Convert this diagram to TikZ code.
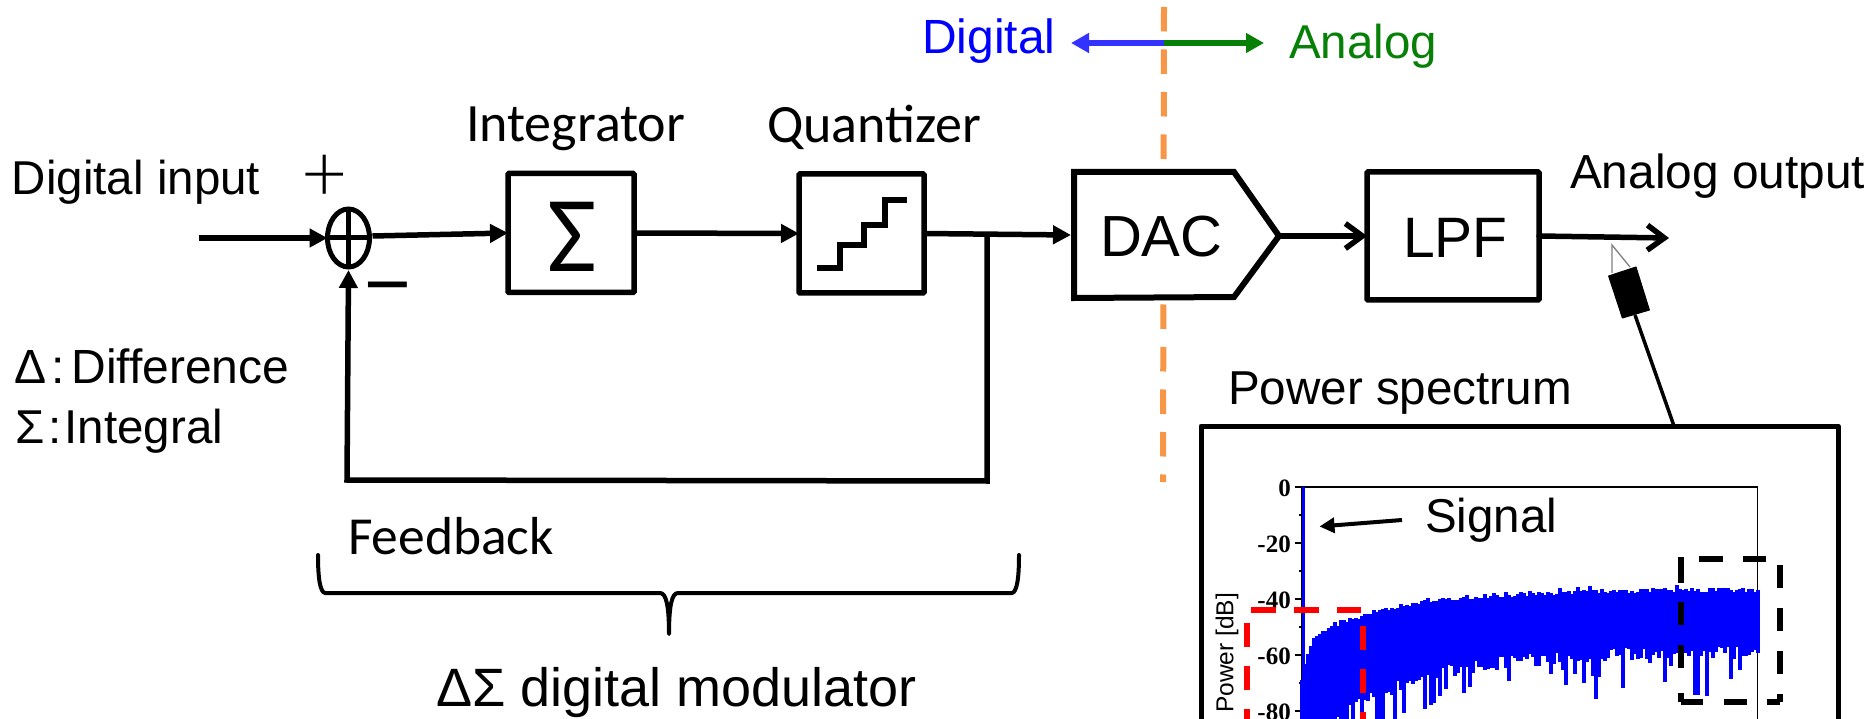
\documentclass[tikz,border=0pt]{standalone}
\usepackage{fontspec}
\setmainfont{Liberation Sans}
\newfontfamily\calib{Carlito}
\newfontfamily\tickfont{Liberation Serif}
\newfontfamily\thinfont[UprightFont={* Light}]{Lato}
\usetikzlibrary{arrows.meta,shapes.geometric}
\definecolor{dashorange}{RGB}{247,150,70}
\definecolor{digblue}{RGB}{0,0,255}
\definecolor{arrblue}{RGB}{51,51,255}
\definecolor{anagreen}{RGB}{6,128,6}
\definecolor{specred}{RGB}{255,0,0}
\newcommand{\fs}[1]{\fontsize{#1}{#1}\selectfont}
\tikzset{
  x=1pt,y=-1pt,
  lab/.style={anchor=base west,inner sep=0pt,outer sep=0pt,text=black},
  blockbox/.style={draw=black,line width=5.5pt,fill=white,rectangle,rounded corners=1pt,inner sep=0pt,outer sep=0pt},
  wire/.style={draw=black,line width=5.5pt},
  tri/.style={-{Triangle[length=18pt,width=18pt]}},
  opentip/.style={-{Straight Barb[length=17pt,width=25pt,line width=5.5pt]},line cap=round},
  ticklab/.style={anchor=east,inner sep=0pt,font=\tickfont\bfseries\fs{25}},
}
\begin{document}
\begin{tikzpicture}
\useasboundingbox (0,0) rectangle (1875,719);
\fill[white] (0,0) rectangle (1875,719);
% orange divider
\coordinate (divtop) at (1164,7);
\coordinate (divbot) at (1163,482);
\draw[dashorange,line width=6pt,dash pattern=on 24.5pt off 18pt] (divtop) -- (divbot);
% digital / analog
\coordinate (dmid) at (1164,43);
\coordinate (dl) at (1071,43);
\coordinate (dr) at (1264,43);
\draw[arrblue,line width=6.5pt,-{Triangle[length=18pt,width=19pt]}] (dmid) -- (dl);
\draw[anagreen,line width=6.5pt,-{Triangle[length=18pt,width=19pt]}] (dmid) -- (dr);
\node[lab,text=digblue,font=\fs{48}] (tdig) at (922,54) {Digital};
\node[lab,text=anagreen,font=\fs{47.5}] (tana) at (1289,59) {Analog};
% blocks
\node[lab,font=\fs{47.5}] (tin) at (12,195) {Digital input};
\node[draw=black,line width=5pt,ellipse,minimum width=42pt,minimum height=58pt,inner sep=0pt,outer sep=0pt] (sum) at (348.5,238) {};
\draw[black,line width=5pt] (sum.north) -- (sum.south) (sum.west) -- (sum.east);
\node[anchor=center,inner sep=0pt,font=\thinfont\fs{80}] (plus) at (324.5,178) {+};
\node[anchor=center,inner sep=0pt,font=\fs{80}] (minus) at (388,297) {−};
\node[blockbox,minimum width=126pt,minimum height=119pt] (sig) at (571,233) {};
\node[inner sep=0pt,font=\calib\fs{108}] (sigg) at (572,237) {Σ};
\node[blockbox,minimum width=125pt,minimum height=119pt] (qua) at (861.5,233.5) {};
\coordinate (s1) at (816.5,268); \coordinate (s2) at (840,268); \coordinate (s3) at (840,245);
\coordinate (s4) at (864,245); \coordinate (s5) at (864,225); \coordinate (s6) at (885,225);
\coordinate (s7) at (885,200); \coordinate (s8) at (907,200);
\draw[black,line width=5.5pt] (s1)--(s2)--(s3)--(s4)--(s5)--(s6)--(s7)--(s8);
\node[lab,font=\calib\fs{54}] (tint) at (466,141.5) {Integrator};
\node[lab,font=\calib\fs{54}] (tqua) at (767,143) {Quantizer};
% DAC
\coordinate (d1) at (1074,172); \coordinate (d2) at (1234,172); \coordinate (dtip) at (1279,236);
\coordinate (d3) at (1234,297); \coordinate (d4) at (1074,298);
\filldraw[fill=white,draw=black,line width=6pt,line join=miter] (d1)--(d2)--(dtip)--(d3)--(d4)--cycle;
\node[lab,font=\fs{58}] (dac) at (1100,257) {DAC};
\node[blockbox,minimum width=172pt,minimum height=128pt] (lpf) at (1453,236) {};
\node[lab,font=\fs{57}] (lpft) at (1403,258) {LPF};
\coordinate (in0) at (199,238);
\coordinate (outp) at (1669,238);
\coordinate (dacin) at (1071,235);
\coordinate (junc) at (987,235);
\coordinate (fb1) at (987,481);
\coordinate (fb2) at (347,480);
\draw[wire,tri] (in0) -- (sum.west);
\draw[wire,tri] (sum.east) ++(3,-2) -- (sig.west);
\draw[wire,tri] (sig.east) -- (qua.west);
\draw[wire,tri] (qua.east) -- (dacin);
\draw[wire,tri] (junc) -- (fb1) -- (fb2) -- ([yshift=-3pt]sum.south);
\draw[wire,opentip] (dtip) -- (lpf.west);
\draw[wire,opentip] (lpf.east) -- (outp);
\node[lab,font=\fs{47.8}] (tout) at (1570,189) {Analog output};
% texts left
\node[lab,font=\fs{48}] (tdelta) at (14,384) {Δ\kern5pt:\kern7pt Difference};
\node[lab,font=\fs{47.5}] (tsigma) at (16,443) {Σ\kern3pt:\kern3pt Integral};
\node[lab,font=\calib\fs{53.5}] (tfb) at (348,554) {Feedback};
\node[lab,font=\fs{54}] (tmod) at (436,706) {ΔΣ digital modulator};
% brace
\coordinate (b1) at (318,555); \coordinate (b2) at (669,634); \coordinate (b3) at (1019,555);
\draw[black,line width=4pt,line cap=round,line join=round]
  (b1) .. controls (318,578) and (320,592) .. (325,593) -- (660,593)
  .. controls (666,593) and (669,605) .. (b2)
  .. controls (669,605) and (672,593) .. (678,593) -- (1012,593)
  .. controls (1017,592) and (1019,578) .. (b3);
% probe
\coordinate (p1) at (1612,245); \coordinate (p2) at (1612,273); \coordinate (p3) at (1630,267);
\draw[gray,line width=1.3pt] (p2)--(p1)--(p3);
\coordinate (pa) at (1608.6,276); \coordinate (pb) at (1636,267); \coordinate (pc) at (1649.4,310); \coordinate (pd) at (1622.4,318);
\filldraw[black,line width=1pt,line join=round] (pa)--(pb)--(pc)--(pd)--cycle;
\coordinate (pw) at (1635,315); \coordinate (pe) at (1674,426);
\draw[black,line width=3.5pt] (pw) -- (pe);
% spectrum
\node[lab,font=\fs{47.6}] (tpow) at (1228,405) {Power spectrum};
\begin{scope}
\clip (0,0) rectangle (1875,719);
\coordinate (bl) at (1201,740); \coordinate (tl) at (1201,426); \coordinate (tr) at (1838,426); \coordinate (br) at (1838,740);
\draw[black,line width=5pt,line join=round] (bl)--(tl)--(tr)--(br);
\coordinate (ax0) at (1302,740); \coordinate (ax1) at (1302,487); \coordinate (ax2) at (1757.5,487); \coordinate (ax3) at (1757.5,740);
\draw[black,line width=1.3pt] (ax0)--(ax1)--(ax2)--(ax3);
\foreach \d/\t in {0/0,20/-20,40/-40,60/-60,80/-80}{
  \draw[black,line width=1.3pt] (1295,487+2.8*\d) -- (1302,487+2.8*\d);
  \draw[black,line width=1.3pt] (1298.5,487+2.8*\d+28) -- (1302,487+2.8*\d+28);
  \node[ticklab] at (1291,488+2.8*\d) {\t};
}
\pgfmathsetseed{5}
\foreach \i in {0,...,152}{
  \pgfmathsetmacro\tv{3*\i}
  \pgfmathsetmacro\xv{1302+\tv}
  \pgfmathsetmacro\topv{590+40*exp(-\tv/8)+50*exp(-\tv/90)-5*rnd+2-(rnd>0.95)*5}
  \pgfmathsetmacro\botv{645+100*exp(-\tv/90)+14*rnd+(rnd>0.8)*(10+40*rnd)}
  \draw[digblue,line width=3.2pt] (\xv,\topv) -- (\xv,\botv);
}
\draw[digblue,line width=3pt] (1303,487) -- (1303,740);
\node[lab,font=\fs{47.5}] (tsignal) at (1425,532) {Signal};
\coordinate (sg1) at (1402,520); \coordinate (sg2) at (1319.5,526.5);
\draw[black,line width=4pt,-{Triangle[length=15pt,width=15pt]}] (sg1) -- (sg2);
\node[inner sep=0pt,rotate=90,anchor=center,font=\fs{24.5}] (tpd) at (1227,653) {Power [dB]};
\coordinate (k1) at (1681,557); \coordinate (k2) at (1780,559); \coordinate (k3) at (1780,702); \coordinate (k4) at (1681,702);
\draw[black,line width=5.5pt,dash pattern=on 26pt off 19pt on 23pt off 20pt on 23pt off 25pt on 9pt off 40pt] (k1)--(k4);
\draw[black,line width=5.5pt,dash pattern=on 0pt off 18pt on 24pt off 20pt on 23pt off 40pt] (k1 |- k2)--(k2);
\draw[black,line width=5.5pt,dash pattern=on 0pt off 6pt on 23pt off 20pt on 23pt off 20pt on 23pt off 20pt on 9pt off 40pt] (k2)--(k3);
\draw[black,line width=5.5pt,dash pattern=on 22pt off 21pt on 23pt off 20pt on 13pt off 40pt] (k4)--(k3);
\coordinate (r1) at (1251,610); \coordinate (r2) at (1361,610); \coordinate (r3) at (1363,626); \coordinate (r4) at (1363,740); \coordinate (r5) at (1246.5,623); \coordinate (r6) at (1246.5,740);
\draw[specred,line width=6pt,dash pattern=on 25pt off 18pt] (r1)--(r2);
\draw[specred,line width=6pt,dash pattern=on 24pt off 19pt] (r3)--(r4);
\draw[specred,line width=6pt,dash pattern=on 24pt off 19pt] (r5)--(r6);
\end{scope}
\end{tikzpicture}
\end{document}
